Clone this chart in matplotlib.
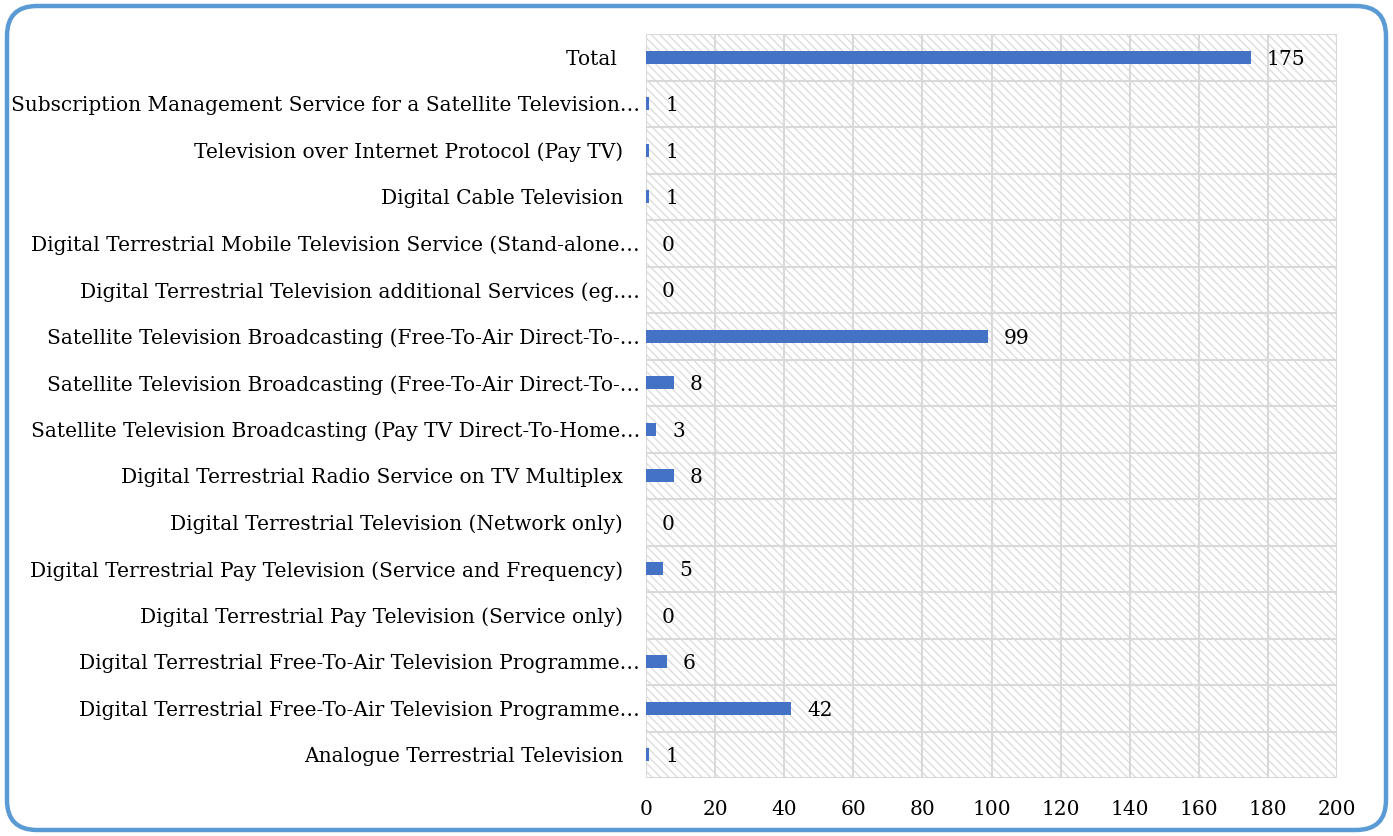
import matplotlib
matplotlib.use("Agg")
import matplotlib.pyplot as plt
from matplotlib.patches import FancyBboxPatch, Rectangle
from matplotlib.transforms import ScaledTranslation

categories = [
    "Analogue Terrestrial Television",
    "Digital Terrestrial Free-To-Air Television Programme…",
    "Digital Terrestrial Free-To-Air Television Programme…",
    "Digital Terrestrial Pay Television (Service only)",
    "Digital Terrestrial Pay Television (Service and Frequency)",
    "Digital Terrestrial Television (Network only)",
    "Digital Terrestrial Radio Service on TV Multiplex",
    "Satellite Television Broadcasting (Pay TV Direct-To-Home…",
    "Satellite Television Broadcasting (Free-To-Air Direct-To-…",
    "Satellite Television Broadcasting (Free-To-Air Direct-To-…",
    "Digital Terrestrial Television additional Services (eg.…",
    "Digital Terrestrial Mobile Television Service (Stand-alone…",
    "Digital Cable Television",
    "Television over Internet Protocol (Pay TV)",
    "Subscription Management Service for a Satellite Television…",
    "Total ",
]
values = [1, 42, 6, 0, 5, 0, 8, 3, 8, 99, 0, 0, 1, 1, 1, 175]
xticks = [0, 20, 40, 60, 80, 100, 120, 140, 160, 180, 200]

plt.rcParams['font.family'] = ['DejaVu Serif']
plt.rcParams['hatch.linewidth'] = 1.0
plt.rcParams['hatch.color'] = '#dedede'

FS = 14.5
fig = plt.figure(figsize=(13.93, 8.36), dpi=100)
W, H = 1393, 836
ax = fig.add_axes([646 / W, 1 - 778 / H, (1337 - 646) / W, (778 - 34) / H])

# hatched background
ax.add_patch(Rectangle((0, 0), 1, 1, transform=ax.transAxes, facecolor='white',
                       edgecolor='#dedede', hatch='\\' * 4, linewidth=0, zorder=0))

y = list(range(len(categories)))
ax.barh(y, values, height=0.27, color='#4472C4', zorder=3)
for yi, v in zip(y, values):
    ax.text(v + 4.6, yi, str(v), va='center_baseline', ha='left', fontsize=FS,
            color='black', zorder=4)

ax.set_xlim(0, 200)
ax.set_ylim(-0.5, len(categories) - 0.5)
ax.set_xticks(xticks)
ax.set_xticklabels([str(t) for t in xticks], fontsize=FS)
ax.set_yticks(y)
ax.set_yticklabels([])
ax.set_yticks([i - 0.5 for i in range(len(categories) + 1)], minor=True)
ax.tick_params(axis='both', which='both', length=0)
ax.tick_params(axis='x', which='major', pad=16)

# category labels (truncated ones sit a little further right, as in the reference)
ytrans = ax.get_yaxis_transform()
for yi, lab in zip(y, categories):
    shift = -23 if not lab.endswith('…') else -6
    tr = ytrans + ScaledTranslation(shift / 100, 0, fig.dpi_scale_trans)
    ax.text(0, yi, lab, transform=tr, ha='right', va='center_baseline',
            fontsize=FS, color='black', clip_on=False)

ax.grid(True, axis='x', which='major', color='#d9d9d9', linewidth=1.5, zorder=1)
ax.grid(True, axis='y', which='minor', color='#d9d9d9', linewidth=1.5, zorder=1)
ax.grid(False, axis='y', which='major')
ax.set_axisbelow(True)
for s in ax.spines.values():
    s.set_visible(False)
ax.set_facecolor('white')

border = FancyBboxPatch((0.07, 0.06), 13.93 - 0.14, 8.36 - 0.12,
                        boxstyle="round,pad=0,rounding_size=0.3",
                        transform=fig.dpi_scale_trans, facecolor='none',
                        edgecolor='#5B9BD5', linewidth=3.2, zorder=10)
fig.patches.append(border)

fig.savefig("out.png", dpi=100)
